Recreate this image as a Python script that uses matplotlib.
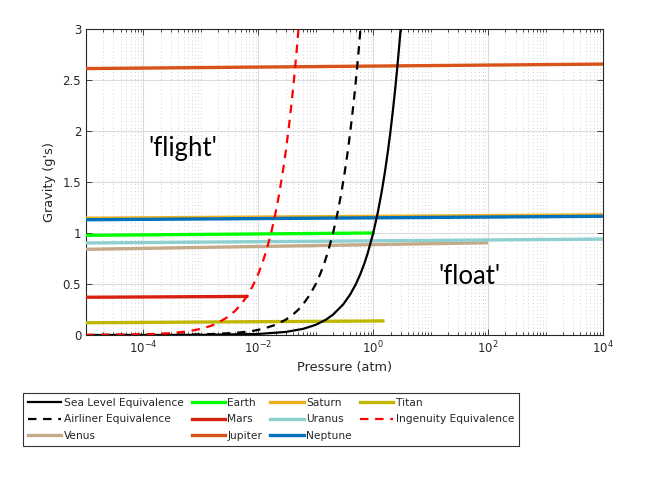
import numpy as np
import matplotlib
matplotlib.use("Agg")
import matplotlib.pyplot as plt
from matplotlib.ticker import LogLocator, FixedLocator, NullFormatter

# ---- data ----
sea_P = [1e-5, 1e-3, 0.01, 0.03, 0.06, 0.1, 0.15, 0.2, 0.3, 0.4, 0.5, 0.6, 0.7, 0.8, 1.0,
         1.2, 1.4, 1.6, 1.8, 2.0, 2.2, 2.4, 2.6, 2.8, 3.0, 3.2]
sea_g = [0.00001, 0.001, 0.01, 0.03, 0.06, 0.1, 0.15, 0.2, 0.3, 0.4, 0.5, 0.6, 0.7, 0.8, 1.0,
         1.2, 1.4, 1.6, 1.8, 2.0, 2.2, 2.4, 2.6, 2.8, 3.0, 3.2]

air_P = [1e-5, 1e-3, 0.004, 0.008, 0.012, 0.02, 0.03, 0.04, 0.05, 0.06, 0.08, 0.1, 0.12, 0.14,
         0.16, 0.2, 0.24, 0.28, 0.32, 0.36, 0.4, 0.44, 0.48, 0.52, 0.56, 0.6, 0.64]
air_g = [0.00005, 0.005, 0.02, 0.04, 0.06, 0.1, 0.15, 0.2, 0.25, 0.3, 0.4, 0.5, 0.6, 0.7,
         0.8, 1.0, 1.2, 1.4, 1.6, 1.8, 2.0, 2.2, 2.4, 2.6, 2.8, 3.0, 3.2]

ing_P = [1e-5, 1e-4, 3e-4, 6e-4, 0.001, 0.0015, 0.002, 0.003, 0.004, 0.005, 0.0063, 0.008, 0.01,
         0.012, 0.014, 0.0167, 0.02, 0.023, 0.027, 0.03, 0.034, 0.038, 0.042, 0.046, 0.05, 0.054]
ing_g = [0.0006, 0.006, 0.018, 0.036, 0.06, 0.09, 0.12, 0.18, 0.24, 0.3, 0.378, 0.48, 0.6,
         0.72, 0.84, 1.0, 1.2, 1.38, 1.62, 1.8, 2.04, 2.28, 2.52, 2.76, 3.0, 3.24]

venus_P = [1e-5, 93]
venus_g = [0.84, 0.904]
earth_P = [1e-5, 1.0]
earth_g = [0.977, 1.0]
mars_P = [1e-5, 0.0063]
mars_g = [0.370, 0.378]
jupiter_P = [1e-5, 1e4]
jupiter_g = [2.612, 2.656]
saturn_P = [1e-5, 1e4]
saturn_g = [1.145, 1.178]
uranus_P = [1e-5, 1e4]
uranus_g = [0.902, 0.940]
neptune_P = [1e-5, 1e4]
neptune_g = [1.130, 1.164]
titan_P = [1e-5, 1.47]
titan_g = [0.120, 0.138]

xticks = [1e-4, 1e-2, 1e0, 1e2, 1e4]
yticks = [0, 0.5, 1, 1.5, 2, 2.5, 3]
ytick_labels = ["0", "0.5", "1", "1.5", "2", "2.5", "3"]

# ---- figure ----
fig = plt.figure(figsize=(6.66, 4.90), dpi=100)
ax = fig.add_axes([86/666, 1-335/490, (603-86)/666, (335-29)/490])

dark = "#262626"
plw = 2.4
clw = 1.6
dash = (0, (3.8, 3.0))

ax.plot(sea_P, sea_g, color="black", lw=clw, zorder=5, label="Sea Level Equivalence")
ax.plot(air_P, air_g, color="black", lw=clw, ls=dash, zorder=5, label="Airliner Equivalence")
ax.plot(venus_P, venus_g, color="#C4AA88", lw=plw, zorder=3, label="Venus")
ax.plot(earth_P, earth_g, color="#00FF00", lw=plw, zorder=3, label="Earth")
ax.plot(mars_P, mars_g, color="#D92010", lw=plw, zorder=3, label="Mars")
ax.plot(jupiter_P, jupiter_g, color="#D95319", lw=plw, zorder=3, label="Jupiter")
ax.plot(saturn_P, saturn_g, color="#EDB120", lw=plw, zorder=3, label="Saturn")
ax.plot(uranus_P, uranus_g, color="#8ECFD0", lw=plw, zorder=3, label="Uranus")
ax.plot(neptune_P, neptune_g, color="#0072BD", lw=plw, zorder=3, label="Neptune")
ax.plot(titan_P, titan_g, color="#C0B800", lw=plw, zorder=3, label="Titan")
ax.plot(ing_P, ing_g, color="#FF0000", lw=clw, ls=dash, zorder=6, label="Ingenuity Equivalence")

ax.set_xscale("log")
ax.set_xlim(1e-5, 1e4)
ax.set_ylim(0, 3)

ax.xaxis.set_major_locator(FixedLocator(xticks))
ax.xaxis.set_minor_locator(LogLocator(base=10, subs=np.arange(1, 10), numticks=100))
ax.xaxis.set_minor_formatter(NullFormatter())
ax.set_yticks(yticks)
ax.set_yticklabels(ytick_labels)

ax.grid(True, which="major", color="#DCDCDC", lw=0.8, ls="-")
ax.grid(True, which="minor", axis="x", color="#C4C4C4", lw=0.6, ls=(0, (1, 3.2)))
ax.set_axisbelow(True)

ax.tick_params(which="both", direction="in", top=True, right=True, colors=dark,
               labelsize=8.5, width=0.6)
ax.tick_params(which="major", length=4)
ax.tick_params(which="minor", length=2.2)
for s in ax.spines.values():
    s.set_color(dark)
    s.set_linewidth(0.8)

ax.set_xlabel("Pressure (atm)", fontsize=9.3, color=dark, labelpad=3)
ax.set_ylabel("Gravity (g's)", fontsize=9.3, color=dark, labelpad=5)

ax.text(4.8e-4, 1.83, "'flight'", fontsize=18.5, family="Lato", ha="center", va="center",
        color="black", zorder=7)
ax.text(47, 0.57, "'float'", fontsize=18.5, family="Lato", ha="center", va="center",
        color="black", zorder=7)

leg = fig.legend(loc="upper left", bbox_to_anchor=(23/666, 1-393/490), ncol=4,
                 fontsize=7.7, frameon=True, fancybox=False, edgecolor="black",
                 handlelength=3.1, handletextpad=0.25, columnspacing=0.75,
                 labelspacing=0.62, borderpad=0.45, borderaxespad=0)
leg.get_frame().set_linewidth(0.8)
for t in leg.get_texts():
    t.set_color(dark)

fig.savefig("out.png", dpi=100)
